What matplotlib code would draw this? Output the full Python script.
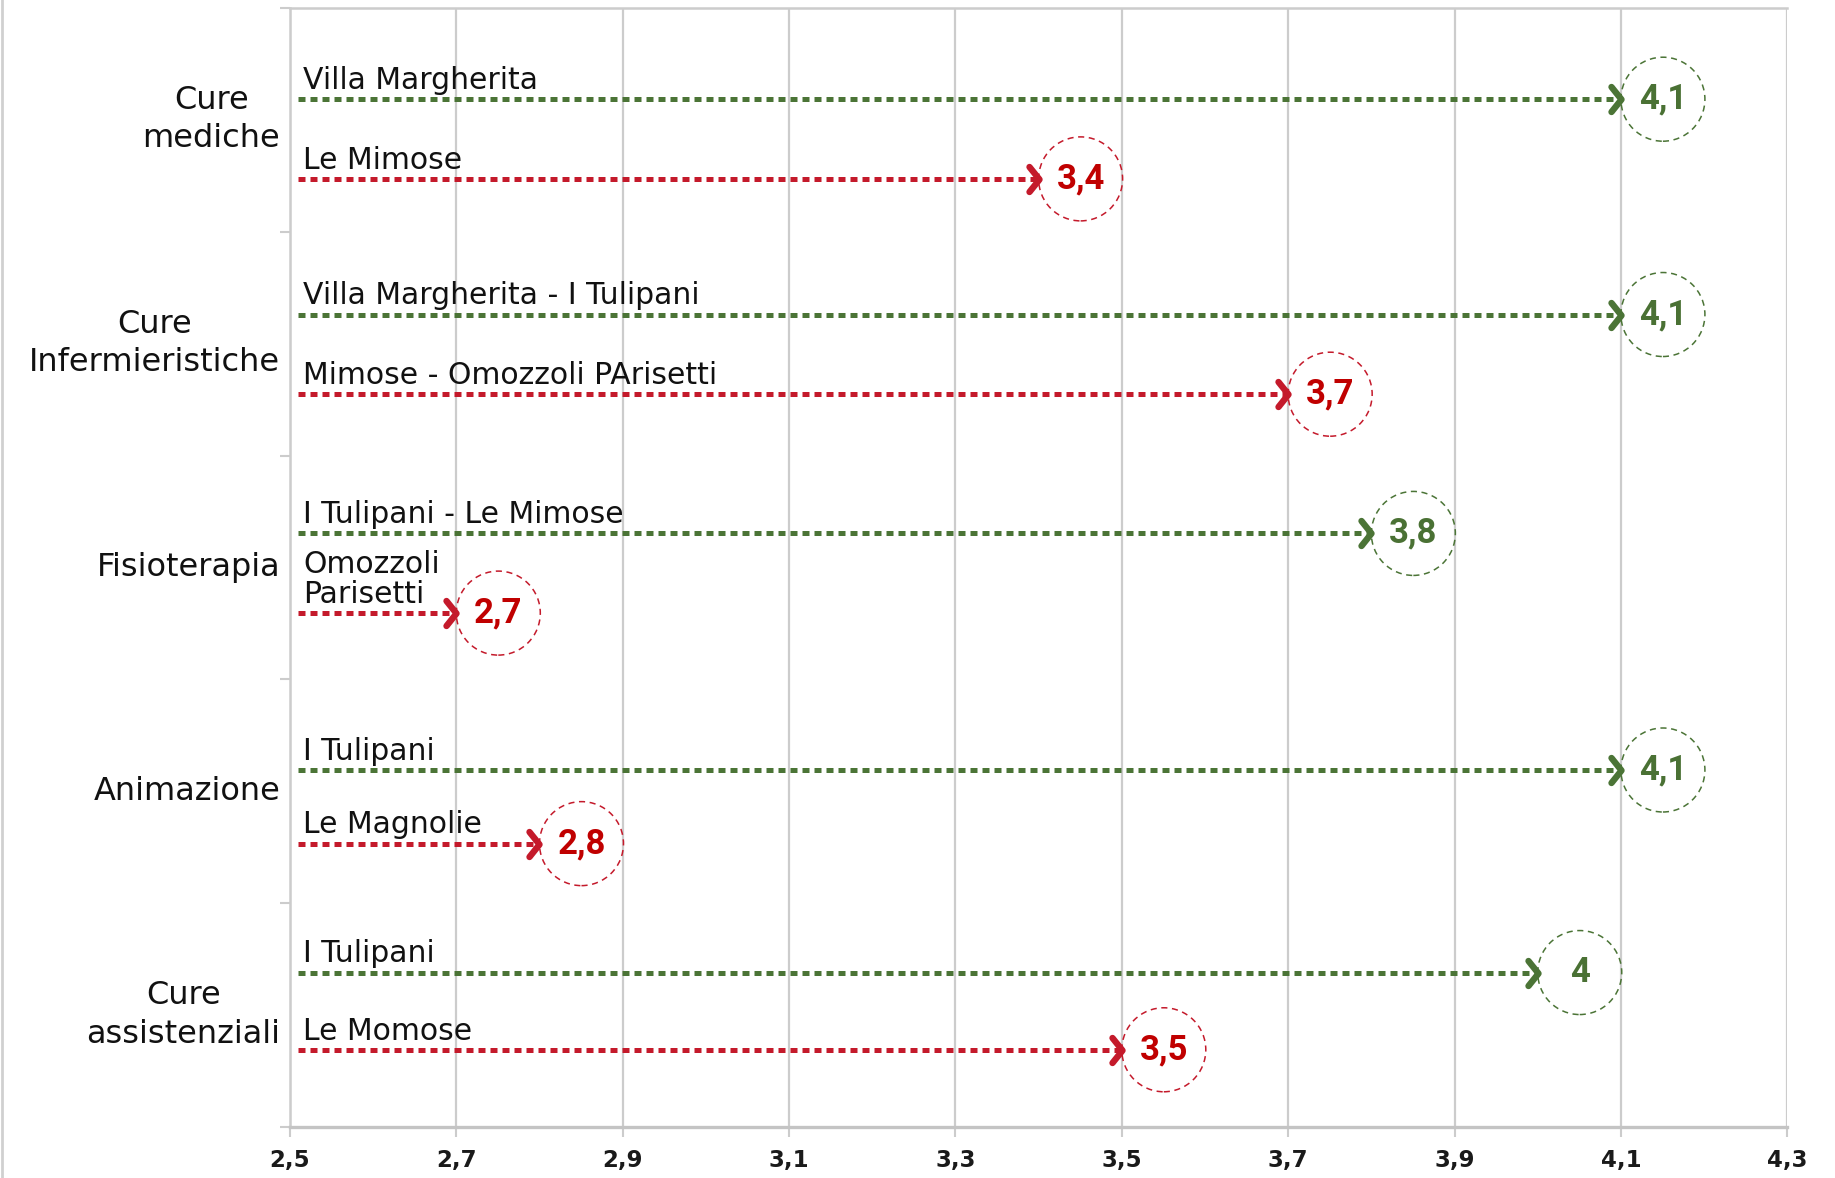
import matplotlib
matplotlib.use("Agg")
import matplotlib.pyplot as plt
from matplotlib.path import Path
from matplotlib.markers import MarkerStyle
from matplotlib.patches import Circle
from matplotlib.lines import Line2D
from matplotlib.transforms import ScaledTranslation

plt.rcParams['font.family'] = ['DejaVu Sans']

# ---------------- data ----------------
categories = ["Cure\nmediche", "Cure\nInfermieristiche", "Fisioterapia",
              "Animazione", "Cure\nassistenziali"]
best_labels = ["Villa Margherita", "Villa Margherita - I Tulipani",
               "I Tulipani - Le Mimose", "I Tulipani", "I Tulipani"]
best_values = [4.1, 4.1, 3.8, 4.1, 4.0]
worst_labels = ["Le Mimose", "Mimose - Omozzoli PArisetti",
                "Omozzoli\nParisetti", "Le Magnolie", "Le Momose"]
worst_values = [3.4, 3.7, 2.7, 2.8, 3.5]
x_ticks = [2.5, 2.7, 2.9, 3.1, 3.3, 3.5, 3.7, 3.9, 4.1, 4.3]
x_tick_labels = ["2,5", "2,7", "2,9", "3,1", "3,3", "3,5", "3,7", "3,9", "4,1", "4,3"]

# ---------------- layout / style ----------------
# vertical position of each arrow inside its category band (0 = band bottom)
pos_best = [0.592, 0.630, 0.652, 0.595, 0.690]
pos_worst = [0.236, 0.274, 0.296, 0.266, 0.345]

GREEN = "#4b7436"
GREEN_TXT = "#4a7134"
RED = "#c41a2b"
RED_TXT = "#c00000"
GRID = "#cccccc"
X_START = 2.51

fig = plt.figure(figsize=(18.35, 11.78), dpi=100)
ax = fig.add_axes([0.158, 0.0433, 0.816, 0.950])
ax.set_xlim(2.5, 4.3)
ax.set_ylim(0, len(categories))

# grid / spines
ax.set_xticks(x_ticks)
ax.set_xticklabels(x_tick_labels, fontsize=16.5, color="#1a1a1a", fontweight="bold")
ax.set_yticks(range(len(categories) + 1))
ax.set_yticklabels([])
ax.tick_params(axis="x", length=7, width=1.5, color=GRID, pad=9)
ax.tick_params(axis="y", length=7, width=1.5, color=GRID)
ax.grid(axis="x", color=GRID, linewidth=1.6)
ax.set_axisbelow(True)
for s in ["left", "top"]:
    ax.spines[s].set_color(GRID)
    ax.spines[s].set_linewidth(1.8)
ax.spines["bottom"].set_color("#c4c4c4")
ax.spines["bottom"].set_linewidth(2.4)
ax.spines["right"].set_visible(False)

chev = MarkerStyle(Path([(-0.8, 1.0), (0.0, 0.0), (-0.8, -1.0)],
                        [Path.MOVETO, Path.LINETO, Path.LINETO]),
                   joinstyle="round", capstyle="round")

R_IN = 0.42  # circle radius in inches


def draw_row(y, val, label, color, txt_color):
    ax.plot([X_START, val], [y, y], color=color, lw=3.6,
            linestyle=(0, (1.4, 1.0)), dash_capstyle="butt", zorder=3)
    ax.plot([val], [y], marker=chev, ms=18, mew=4.6, mec=color,
            mfc="none", zorder=4, linestyle="none")
    tr = fig.dpi_scale_trans + ScaledTranslation(val, y, ax.transData)
    ax.add_patch(Circle((R_IN, 0), R_IN, transform=tr, fill=False,
                        edgecolor=color, lw=1.1, linestyle=(0, (4, 3)),
                        zorder=4, clip_on=False))
    ax.annotate(f"{val:g}".replace(".", ","), (val, y),
                xytext=(R_IN * 72, 0), textcoords="offset points",
                ha="center", va="center", fontsize=25, fontweight="bold",
                family=["Roboto", "DejaVu Sans"], color=txt_color, zorder=5)
    ax.annotate(label, (X_START, y), xytext=(3.5, 3), textcoords="offset points",
                ha="left", va="bottom", fontsize=21.5, color="#111111",
                linespacing=1.05, zorder=5)


n = len(categories)
for i, cat in enumerate(categories):
    base = n - 1 - i
    ax.annotate(cat, (2.5, base + 0.5), xytext=(-7, 0), textcoords="offset points",
                ha="right", va="center", multialignment="center",
                fontsize=23, color="#111111", linespacing=1.3,
                annotation_clip=False)
    draw_row(base + pos_best[i], best_values[i], best_labels[i], GREEN, GREEN_TXT)
    draw_row(base + pos_worst[i], worst_values[i], worst_labels[i], RED, RED_TXT)

fig.add_artist(Line2D([0.001, 0.001], [0, 1], transform=fig.transFigure,
                      color="#d0d0d0", lw=2))

fig.savefig("out.png", dpi=100)
